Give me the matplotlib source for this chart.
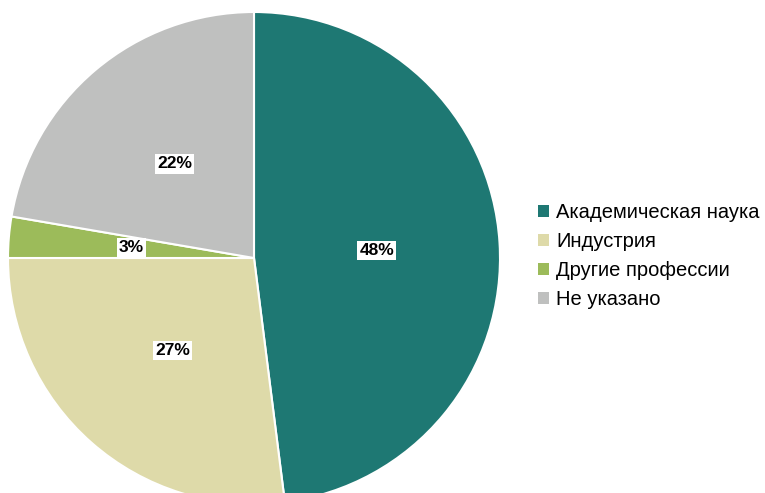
import matplotlib
matplotlib.use('Agg')
import matplotlib.pyplot as plt
from matplotlib.patches import Patch

plt.rcParams['font.family'] = ['Liberation Sans', 'DejaVu Sans']

# data
categories = ['Академическая наука', 'Индустрия', 'Другие профессии', 'Не указано']
shares = [48, 27, 2.7, 22.3]
colors = ['#1e7873', '#dedaa9', '#9cbb5a', '#bfc0bf']

W, H = 765, 493
fig = plt.figure(figsize=(W / 100, H / 100), dpi=100)

# pie centre ~ (254, 258) px, radius ~246 px (bottom is cut off)
cx, cy, r = 254, 258, 246
ax = fig.add_axes([(cx - r) / W, (H - cy - r) / H, 2 * r / W, 2 * r / H])

wedges, texts, autotexts = ax.pie(
    shares, colors=colors, startangle=90, counterclock=False,
    autopct='%.0f%%', pctdistance=0.5,
    wedgeprops=dict(edgecolor='white', linewidth=1.5))
for t in autotexts:
    t.set_fontsize(12.5)
    t.set_fontweight('bold')
    t.set_color('black')
    t.set_bbox(dict(facecolor='white', edgecolor='none', pad=1.5))
ax.set_xlim(-1, 1)
ax.set_ylim(-1, 1)
ax.set_aspect('equal')

handles = [Patch(facecolor=c, edgecolor='none', label=l) for c, l in zip(colors, categories)]
fig.legend(handles=handles, loc='center left', bbox_to_anchor=(530 / W, 1 - 256 / H),
           frameon=False, fontsize=14.5, handlelength=0.55, handleheight=0.55,
           handletextpad=0.35, labelspacing=0.5, borderaxespad=0)

fig.savefig('out.png', dpi=100, facecolor='white')
